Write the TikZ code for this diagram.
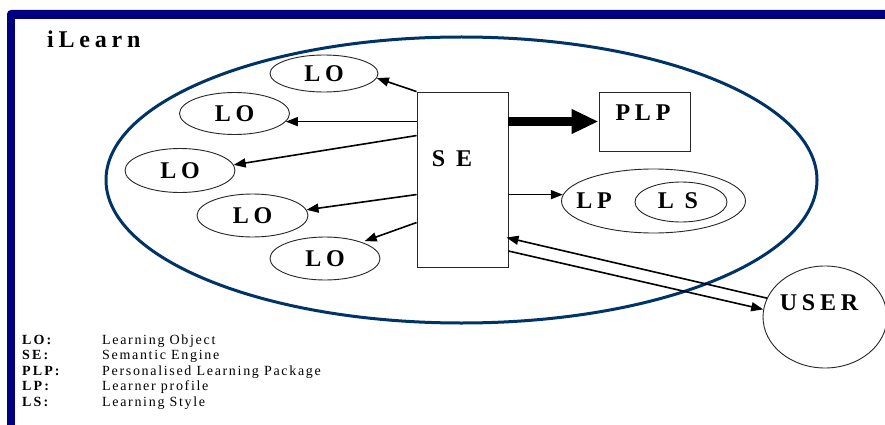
\documentclass[tikz,border=0pt]{standalone}
\usepackage{fontspec}
\setmainfont{Liberation Serif}
\newfontfamily\lblfont[LetterSpace=20]{Liberation Serif}
\newfontfamily\legfont[LetterSpace=12]{Liberation Serif}
\newfontfamily\legbfont[LetterSpace=15]{Liberation Serif}
\usetikzlibrary{arrows.meta,shapes.geometric}
\definecolor{framenavy}{RGB}{0,0,128}
\definecolor{ellblue}{RGB}{0,51,102}
\begin{document}
\begin{tikzpicture}[x=1pt,y=-1pt,
  lbl/.style={font={\fontsize{24}{26}\lblfont\bfseries}, inner sep=0pt},
  loell/.style={ellipse, draw=black!85, line width=0.9pt, minimum width=110pt, minimum height=42pt, inner sep=0pt, font={\fontsize{24}{26}\lblfont\bfseries}},
  boxnode/.style={rectangle, draw=black!85, line width=0.9pt, inner sep=0pt},
  arr/.style={line width=1.6pt, -{Triangle[length=12pt,width=9pt]}},
  bigarr/.style={line width=8pt, -{Triangle[length=27pt,width=23pt]}},
  legab/.style={font={\fontsize{14}{16}\legbfont\bfseries}, anchor=base west, inner sep=0pt},
  legtx/.style={font={\fontsize{14}{16}\legfont}, anchor=base west, inner sep=0pt}
]
\useasboundingbox (0,0) rectangle (885,425);
\fill[white] (0,0) rectangle (885,425);
% frame
\fill[framenavy, rounded corners=4pt] (7,10) rectangle (900,440);
\fill[white] (15,19) rectangle (900,440);

% title
\node[lbl, anchor=base west] (title) at (47,48) {iLearn};

% big ellipse
\node[ellipse, draw=ellblue, line width=3pt, minimum width=711pt, minimum height=286pt] (ilearn) at (461.5,180) {};

% LO ellipses
\node[loell, minimum width=108pt, minimum height=37pt] (lo1) at (324,73.5) {LO};
\node[loell] (lo2) at (234.5,113.5) {LO};
\node[loell, minimum height=44pt] (lo3) at (180,170.5) {LO};
\node[loell, minimum width=111pt, minimum height=43pt] (lo4) at (252.5,215.5) {LO};
\node[loell, minimum width=110pt, minimum height=43pt] (lo5) at (325,258.5) {LO};

% SE box
\node[boxnode, minimum width=91pt, minimum height=175pt] (se) at (462.5,179.5) {};
\node[lbl] (setext) at (452,159) {S E};

% PLP box
\node[boxnode, minimum width=91pt, minimum height=59pt] (plp) at (644.5,121.5) {};
\node[lbl] (plptext) at (643,113) {PLP};

% LP / LS
\node[ellipse, draw=black!85, line width=0.9pt, minimum width=184pt, minimum height=64pt, inner sep=0pt] (lp) at (653.5,201) {};
\node[lbl] (lptext) at (594,201) {LP};
\node[ellipse, draw=black!85, line width=0.9pt, minimum width=92pt, minimum height=40pt, inner sep=0pt] (ls) at (681,202) {};
\node[lbl] (lstext) at (678,201) {L S};

% USER
\node[ellipse, draw=black!85, line width=0.9pt, minimum width=124pt, minimum height=102pt, inner sep=0pt] (user) at (825,317) {};
\node[lbl] (usertext) at (819,303) {USER};

% connectors SE -> LO
\draw[arr] (se.north west) -- (lo1.-5);
\draw[arr] (se.west |- lo2.-9) -- (lo2.-9);
\draw[arr] ([yshift=-44pt]se.north west) -- (lo3.6);
\draw[arr] ([yshift=-103pt]se.north west) -- (lo4.6);
\draw[arr, shorten >=3pt] ([yshift=-131pt]se.north west) -- (lo5.24);

% SE -> PLP
\draw[bigarr] (se.east |- plp.west) -- (plp.west);
% SE -> LP
\draw[arr] (se.east |- lp.176) -- (lp.176);
% USER <-> SE
\draw[arr, shorten >=-2pt] (user.162) -- ([yshift=-58.5pt]se.east);
\draw[arr] ([yshift=-71.5pt]se.east) -- (user.173);

% legend
\node[legab] (lgk1) at (22,344) {LO:};
\node[legab] (lgk2) at (22,359.5) {SE:};
\node[legab] (lgk3) at (22,375) {PLP:};
\node[legab] (lgk4) at (22,390.5) {LP:};
\node[legab] (lgk5) at (22,406) {LS:};
\node[legtx] (lgv1) at (102,344) {Learning Object};
\node[legtx] (lgv2) at (102,359.5) {Semantic Engine};
\node[legtx] (lgv3) at (102,375) {Personalised Learning Package};
\node[legtx] (lgv4) at (102,390.5) {Learner profile};
\node[legtx] (lgv5) at (102,406) {Learning Style};
\end{tikzpicture}
\end{document}
